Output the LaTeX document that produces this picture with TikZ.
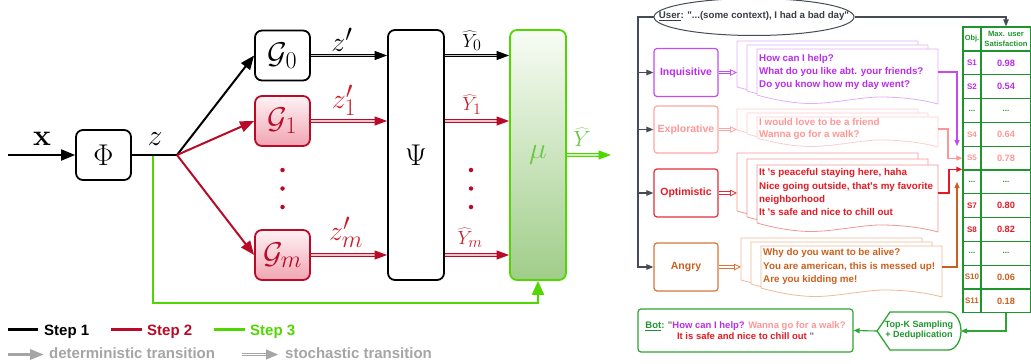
\RequirePackage{fix-cm}
\documentclass[tikz,border=0pt]{standalone}
\usepackage[no-math]{fontspec}
\newfontfamily\lsans{Liberation Sans}
\usetikzlibrary{arrows.meta,shapes.geometric}
\DeclareMathSizes{30}{30}{24}{18}
\DeclareMathSizes{28}{28}{24}{18}
\DeclareMathSizes{19}{19}{16}{12}
\DeclareMathSizes{22}{22}{17}{13}
\definecolor{sred}{RGB}{185,10,40}
\definecolor{sgreen}{RGB}{80,215,0}
\definecolor{lgray}{RGB}{165,165,165}
\definecolor{rlbl}{RGB}{200,30,45}
\definecolor{gpink}{RGB}{240,165,178}
\definecolor{gtop}{RGB}{255,242,245}
\definecolor{mutop}{RGB}{248,252,245}
\definecolor{mubot}{RGB}{160,205,138}
\definecolor{mulbl}{RGB}{105,200,70}
\definecolor{cpurple}{RGB}{185,45,235}
\definecolor{cpurpleb}{RGB}{195,75,240}
\definecolor{cpurplel}{RGB}{225,175,250}
\definecolor{cpink}{RGB}{255,150,150}
\definecolor{cpinkb}{RGB}{255,165,165}
\definecolor{cpinkl}{RGB}{255,205,205}
\definecolor{cred}{RGB}{230,25,35}
\definecolor{credb}{RGB}{225,45,55}
\definecolor{credl}{RGB}{240,150,150}
\definecolor{corange}{RGB}{205,95,30}
\definecolor{coranb}{RGB}{215,115,55}
\definecolor{corangel}{RGB}{240,185,155}
\definecolor{cgreen}{RGB}{30,150,45}
\definecolor{cgreenb}{RGB}{45,165,50}
\definecolor{cgray}{RGB}{70,75,85}
\definecolor{qgray}{RGB}{110,110,110}

\newcommand\docshape[5]{%
  \pgfmathsetmacro\dX{#2+#4}%
  \filldraw[draw=#1, fill=white, line width=0.8pt]
    (#2,{#5-9}) -- (#2,#3) -- (\dX,#3) -- (\dX,#5)
    .. controls ({#2+0.9*#4},{#5-5}) and ({#2+0.78*#4},{#5-7}) .. ({#2+0.68*#4},{#5-7})
    .. controls ({#2+0.58*#4},{#5-7}) and ({#2+0.42*#4},{#5-0.5}) .. ({#2+0.3*#4},{#5-0.5})
    .. controls ({#2+0.18*#4},{#5-0.5}) and ({#2+0.06*#4},{#5-6}) .. (#2,{#5-9}) -- cycle;%
}

\tikzset{
  lbox/.style={draw, rounded corners=7pt, line width=1.8pt, minimum width=55pt, minimum height=50pt, inner sep=0pt, font=\fontsize{30}{36}\selectfont},
  redbox/.style={draw=sred, top color=gtop, bottom color=gpink, text=sred},
  bigm/.style={font=\fontsize{30}{36}\selectfont, inner sep=0pt},
  midm/.style={font=\fontsize{28}{34}\selectfont, inner sep=0pt},
  smallm/.style={font=\fontsize{19}{23}\selectfont, inner sep=0pt},
  detarr/.style={line width=2pt, -{Triangle[length=14pt,width=11pt]}},
  stocharr/.style={line width=1pt, double distance=1.5pt, -{Triangle[length=12.5pt,width=9pt]}},
  reddot/.style={circle, fill=sred, inner sep=0pt, minimum size=4.5pt},
  legtext/.style={font=\lsans\bfseries\fontsize{15}{18}\selectfont, anchor=base west, inner sep=0pt},
  rt/.style={font=\lsans\bfseries\fontsize{9.8}{12}\selectfont, anchor=base west, inner sep=0pt},
  catbox/.style={draw, rounded corners=3pt, line width=1.2pt, minimum width=64pt, minimum height=48pt, inner sep=0pt, font=\lsans\bfseries\fontsize{10.5}{12}\selectfont},
  garrow/.style={draw=cgray, line width=1.1pt, -{Triangle[length=7pt,width=5.5pt]}},
  carrow/.style={line width=1.1pt, -{Triangle[length=6pt,width=5pt]}},
  dblopen/.style={line width=0.8pt, double=white, double distance=1.6pt, -{Triangle[open,length=7pt,width=6.5pt]}},
  tcell/.style={draw=cgreen, line width=1.3pt, minimum height=23.8pt, inner sep=0pt},
  ocell/.style={tcell, minimum width=18pt, font=\lsans\bfseries\fontsize{8}{9}\selectfont},
  vcell/.style={tcell, minimum width=50pt, font=\lsans\bfseries\fontsize{9.2}{10}\selectfont},
}

\begin{document}
\begin{tikzpicture}[x=1pt,y=-1pt]
\useasboundingbox (0,0) rectangle (1031,364);

% ================= LEFT =================
\node[lbox] (phi) at (103.5,155) {$\Phi$};
\node[lbox] (g0) at (282.5,55.5) {$\mathcal{G}_0$};
\node[lbox, redbox] (g1) at (282.5,121) {$\mathcal{G}_1$};
\node[lbox, redbox] (gm) at (282.5,255) {$\mathcal{G}_m$};
\node[lbox, minimum width=56pt, minimum height=250pt] (psi) at (416,155) {$\Psi$};
\node[lbox, minimum width=56pt, minimum height=250pt, draw=sgreen, top color=mutop, bottom color=mubot, text=mulbl] (mu) at (538,155) {$\mu$};

% feedback (step 3)
\coordinate (zsplit) at (153,155);
\coordinate (fb) at (538,303);
\draw[line width=2pt, sgreen, -{Triangle[length=14pt,width=12pt]}] (zsplit) |- (fb) -- (mu.south);

\coordinate (xin) at (8,155);
\draw[detarr] (xin) -- (phi.west);
\coordinate (br) at (177,155);
\draw[line width=2.6pt] (phi.east) -- (br);
\draw[detarr] (br) -- (g0.west);
\draw[detarr, sred] (br) -- (g1.west);
\draw[detarr, sred] (br) -- (gm.west);

\node[reddot] (da1) at (282.5,170) {};
\node[reddot] (da2) at (282.5,188.5) {};
\node[reddot] (da3) at (282.5,207) {};
\node[reddot] (db1) at (471,170) {};
\node[reddot] (db2) at (471,188.5) {};
\node[reddot] (db3) at (471,207) {};

\draw[stocharr, black, double=gray!45] (g0.east) -- (g0.east -| psi.west);
\draw[stocharr, sred, double=sred!25] (g1.east) -- (g1.east -| psi.west);
\draw[stocharr, sred, double=sred!25] (gm.east) -- (gm.east -| psi.west);
\draw[stocharr, black, double=gray!45] (g0.east -| psi.east) -- (g0.east -| mu.west);
\draw[stocharr, sred, double=sred!25] (g1.east -| psi.east) -- (g1.east -| mu.west);
\draw[stocharr, sred, double=sred!25] (gm.east -| psi.east) -- (gm.east -| mu.west);
\coordinate (yend) at (611,155);
\draw[stocharr, line width=0.9pt, sgreen, double=sgreen!30] (mu.east) -- (yend);

\node[bigm] (xlbl) at (42,139) {$\mathbf{x}$};
\node[bigm] (zlbl) at (155,139) {$z$};
\node[midm] (zp0) at (342,40) {$z'$};
\node[midm, text=rlbl] (zp1) at (344,100) {$z'_1$};
\node[midm, text=rlbl] (zpm) at (346,232) {$z'_m$};
\node[smallm] (y0) at (472,41) {$\widehat{Y}_0$};
\node[smallm, text=rlbl] (y1) at (472,104.5) {$\widehat{Y}_1$};
\node[smallm, text=rlbl] (ym) at (470,237.5) {$\widehat{Y}_m$};
\node[font=\fontsize{22}{26}\selectfont, inner sep=0pt, text=mulbl] (yout) at (582,137) {$\widehat{Y}$};

% legend
\coordinate (la1) at (8,329); \coordinate (lb1) at (38,329);
\draw[line width=3pt] (la1) -- (lb1);
\node[legtext] (s1) at (44,335) {Step 1};
\coordinate (la2) at (111,329); \coordinate (lb2) at (142,329);
\draw[line width=3pt, sred] (la2) -- (lb2);
\node[legtext, text=sred] (s2) at (147,335) {Step 2};
\coordinate (la3) at (214,329); \coordinate (lb3) at (245,329);
\draw[line width=3pt, sgreen] (la3) -- (lb3);
\node[legtext, text=sgreen] (s3) at (250,335) {Step 3};
\coordinate (la4) at (8,354.5); \coordinate (lb4) at (44,354.5);
\draw[line width=3pt, lgray, -{Triangle[length=14pt,width=10pt]}] (la4) -- (lb4);
\node[legtext, text=lgray] (ldet) at (49,358.5) {deterministic transition};
\coordinate (la5) at (242,354.5); \coordinate (lb5) at (278,354.5);
\draw[line width=1pt, lgray, double=white, double distance=1.6pt, -{Triangle[length=12pt,width=10pt]}] (la5) -- (lb5);
\node[legtext, text=lgray] (lsto) at (285,358.5) {stochastic transition};

% ================= RIGHT =================
\node[ellipse, draw=cgray, line width=1pt, minimum width=200pt, minimum height=37pt, inner sep=0pt] (userell) at (754,17) {};
\node[font=\lsans\bfseries\fontsize{9.7}{11}\selectfont, text=cgray!80!black, inner sep=0pt] (user) at (754,16.5) {\underline{User}: \textquotedbl...(some context), I had a bad day\textquotedbl};

\node[catbox, draw=cpurpleb, text=cpurple] (inq) at (686,72.5) {Inquisitive};
\node[catbox, draw=cpinkb, text=cpink, minimum height=47pt] (exp) at (686,129.5) {Explorative};
\node[catbox, draw=credb, text=cred] (opt) at (686,193) {Optimistic};
\node[catbox, draw=coranb, text=corange] (ang) at (686,267) {Angry};

\coordinate (vtop) at (638,17);
\draw[line width=1.1pt, draw=cgray, -{Triangle[length=7pt,width=5.5pt]}] (userell.west) -- (vtop) |- (ang.west);
\draw[garrow] (vtop |- inq.west) -- (inq.west);
\draw[garrow] (vtop |- exp.west) -- (exp.west);
\draw[garrow] (vtop |- opt.west) -- (opt.west);

% document stacks
\docshape{cpurplel}{737}{41}{181}{96}
\docshape{cpurplel}{747}{45}{181}{100}
\docshape{cpurplel}{757}{49}{181}{104}
\docshape{cpinkl}{737}{109}{181}{139}
\docshape{cpinkl}{747}{113}{181}{143}
\docshape{cpinkl}{757}{117}{181}{147}
\docshape{credl}{737}{153}{181}{220}
\docshape{credl}{747}{159}{181}{226}
\docshape{credl}{757}{165}{181}{232}
\docshape{corangel}{741}{238}{181}{289}
\docshape{corangel}{751}{242}{181}{293}
\docshape{corangel}{761}{246}{181}{297}

\coordinate (inqD) at (737,72.5);
\coordinate (expD) at (737,129.5);
\coordinate (optD) at (737,193);
\coordinate (angD) at (741,267);
\draw[dblopen, cpurpleb] (inq.east) -- (inqD);
\draw[dblopen, cpinkb] (exp.east) -- (expD);
\draw[dblopen, credb] (opt.east) -- (optD);
\draw[dblopen, coranb] (ang.east) -- (angD);

\node[rt, text=cpurple] (i1) at (759,61.2) {How can I help?};
\node[rt, text=cpurple] (i2) at (759,74.5) {What do you like abt. your friends?};
\node[rt, text=cpurple] (i3) at (759,87.8) {Do you know how my day went?};
\node[rt, text=cpink] (e1) at (759,125.8) {I would love to be a friend};
\node[rt, text=cpink] (e2) at (759,137.8) {Wanna go for a walk?};
\node[rt, text=cred] (p1) at (759,175.8) {It \textquotesingle s peaceful staying here, haha};
\node[rt, text=cred] (p2) at (759,189.2) {Nice going outside, that\textquotesingle s my favorite};
\node[rt, text=cred] (p3) at (759,202.5) {neighborhood};
\node[rt, text=cred] (p4) at (759,215.8) {It \textquotesingle s safe and nice to chill out};
\node[rt, text=corange] (a1) at (763,255.8) {Why do you want to be alive?};
\node[rt, text=corange] (a2) at (763,269.5) {You are american, this is messed up!};
\node[rt, text=corange] (a3) at (763,282.8) {Are you kidding me!};

% table
\node[ocell, minimum height=24pt, text=cgreen, font=\lsans\bfseries\fontsize{7.4}{8}\selectfont] (ho) at (972,39) {Obj.};
\node[vcell, minimum height=24pt, text=cgreen, align=center, font=\lsans\bfseries\fontsize{7.6}{9.6}\selectfont] (hv) at (1006,39) {Max. user\\Satisfaction};
\node[ocell, text=cpurple] (tc1) at (972,62.9) {S1};
\node[vcell, text=cpurple] (tv1) at (1006,62.9) {0.98};
\node[ocell, text=cpurple] (tc2) at (972,86.7) {S2};
\node[vcell, text=cpurple] (tv2) at (1006,86.7) {0.54};
\node[ocell, text=cgreen] (tc3) at (972,110.5) {...};
\node[vcell, text=cgreen, font=\lsans\bfseries\fontsize{8}{9}\selectfont] (tv3) at (1006,110.5) {...};
\node[ocell, text=cpink] (tc4) at (972,134.3) {S4};
\node[vcell, text=cpink] (tv4) at (1006,134.3) {0.64};
\node[ocell, text=cpink] (tc5) at (972,158.1) {S5};
\node[vcell, text=cpink] (tv5) at (1006,158.1) {0.78};
\node[ocell, text=cgreen] (tc6) at (972,181.9) {...};
\node[vcell, text=cgreen, font=\lsans\bfseries\fontsize{8}{9}\selectfont] (tv6) at (1006,181.9) {...};
\node[ocell, text=cred] (tc7) at (972,205.7) {S7};
\node[vcell, text=cred] (tv7) at (1006,205.7) {0.80};
\node[ocell, text=cred] (tc8) at (972,229.5) {S8};
\node[vcell, text=cred] (tv8) at (1006,229.5) {0.82};
\node[ocell, text=cgreen] (tc9) at (972,253.3) {...};
\node[vcell, text=cgreen, font=\lsans\bfseries\fontsize{8}{9}\selectfont] (tv9) at (1006,253.3) {...};
\node[ocell, text=corange] (tc10) at (972,277.1) {S10};
\node[vcell, text=corange] (tv10) at (1006,277.1) {0.06};
\node[ocell, text=corange] (tc11) at (972,300.9) {S11};
\node[vcell, text=corange] (tv11) at (1006,300.9) {0.18};

\draw[garrow] (userell.east) -| (hv.north);

% connectors into table
\coordinate (inqR) at (938,72);
\coordinate (inqT) at (957,146);
\draw[carrow, cpurpleb] (inqR) -| (inqT);
\coordinate (expR) at (938,129);
\draw[carrow, cpink] (expR) -- ++(10,0) |- (tc5.west);
\coordinate (optR) at (938,193);
\draw[carrow, cred] (optR) -- ++(11,0) |- (tc6.north west);
\coordinate (angR) at (942,267);
\coordinate (angT) at (957,182);
\draw[carrow, corange] (angR) -| (angT);

% Top-K and Bot
\draw[cgreenb, line width=1.3pt, fill=white] (877,331) -- (890,312) -- (948,312) arc[start angle=-90, end angle=90, x radius=13, y radius=19] -- (890,350) -- cycle;
\node[font=\lsans\bfseries\fontsize{9}{10.5}\selectfont, text=cgreen, align=center, inner sep=0pt] (topk) at (919,330) {Top-K Sampling\\+ Deduplication};
\coordinate (topkE) at (961,331);
\coordinate (topkW) at (877,331);
\node[draw=cgreenb, rounded corners=3pt, line width=1.2pt, minimum width=215pt, minimum height=43pt, align=center, inner sep=0pt, font=\lsans\bfseries\fontsize{9.5}{11}\selectfont] (bot) at (745.5,330.5)
  {{\color{cgreen}\underline{Bot}:} {\color{qgray}\textquotedbl}{\color{cpurple}How can I help?} {\color{cpink}Wanna go for a walk?}\\
   {\color{cred}It is safe and nice to chill out} {\color{qgray}\textquotedbl}};
\draw[carrow, cgreenb] (tv11.south) |- (topkE);
\draw[carrow, cgreenb] (topkW) -- (bot.east);
\end{tikzpicture}
\end{document}
